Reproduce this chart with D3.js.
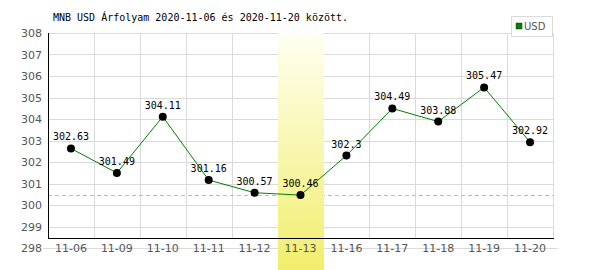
<!DOCTYPE html>
<html>
<head>
<meta charset="utf-8">
<script src="https://cdn.jsdelivr.net/npm/d3@7"></script>
<style>
  body { margin: 0; background: #fff; }
</style>
</head>
<body>
<svg id="chart"></svg>
<script>
const dates = ["11-06", "11-09", "11-10", "11-11", "11-12", "11-13", "11-16", "11-17", "11-18", "11-19", "11-20"];
const rates = [302.63, 301.49, 304.11, 301.16, 300.57, 300.46, 302.3, 304.49, 303.88, 305.47, 302.92];
const yTicks = [298, 299, 300, 301, 302, 303, 304, 305, 306, 307, 308];
const highlightDate = "11-13";

(() => {
    const width = 600, height = 270;
    const left = 48, right = 553, top = 33, axisBottom = 238, bottomLine = 248;

    const svg = d3.select("#chart")
        .attr("width", width)
        .attr("height", height);

    const x = d3.scaleBand().domain(dates).range([left, right]);
    const y = d3.scaleLinear().domain([298, 308]).range([bottomLine, top]);

    // yellow gradient for the highlighted day
    const grad = svg.append("defs").append("linearGradient")
        .attr("id", "hl").attr("x1", 0).attr("y1", 0).attr("x2", 0).attr("y2", 1);
    grad.append("stop").attr("offset", "0%").attr("stop-color", "#fffff2");
    grad.append("stop").attr("offset", "100%").attr("stop-color", "#f1ee6c");

    // grid
    const grid = svg.append("g").attr("stroke", "#dadada").attr("stroke-width", 1);
    grid.selectAll(".h").data(yTicks.filter(d => d > 298)).enter().append("line")
        .attr("x1", left).attr("x2", right)
        .attr("y1", d => Math.round(y(d)) + 0.5).attr("y2", d => Math.round(y(d)) + 0.5);
    grid.append("line")
        .attr("x1", left - 5).attr("x2", right + 5)
        .attr("y1", bottomLine + 0.5).attr("y2", bottomLine + 0.5);
    grid.selectAll(".v").data(dates).enter().append("line")
        .attr("x1", d => Math.round(x(d) + x.bandwidth()) + 0.5)
        .attr("x2", d => Math.round(x(d) + x.bandwidth()) + 0.5)
        .attr("y1", top).attr("y2", axisBottom);

    // minimum dashed line
    const minVal = d3.min(rates);
    svg.append("line")
        .attr("x1", left).attr("x2", right)
        .attr("y1", Math.round(y(minVal)) + 0.5).attr("y2", Math.round(y(minVal)) + 0.5)
        .attr("stroke", "#9fcf9f").attr("stroke-dasharray", "4,3");

    // highlight column
    svg.append("rect")
        .attr("x", Math.round(x(highlightDate)))
        .attr("y", top)
        .attr("width", Math.round(x.bandwidth()))
        .attr("height", height - top)
        .attr("fill", "url(#hl)");

    // axes lines
    svg.append("line")
        .attr("x1", left + 0.5).attr("x2", left + 0.5)
        .attr("y1", top).attr("y2", axisBottom + 1)
        .attr("stroke", "#000");
    svg.append("line")
        .attr("x1", left).attr("x2", right + 1)
        .attr("y1", axisBottom + 0.5).attr("y2", axisBottom + 0.5)
        .attr("stroke", "#000");

    // y tick labels
    svg.append("g").selectAll("text").data(yTicks).enter().append("text")
        .attr("x", 42)
        .attr("y", d => y(d) + 4)
        .attr("text-anchor", "end")
        .attr("font-family", "DejaVu Sans, Verdana, sans-serif")
        .attr("font-size", "11px")
        .attr("fill", "#555")
        .text(d => d);

    // x tick labels
    svg.append("g").selectAll("text").data(dates).enter().append("text")
        .attr("x", d => x(d) + x.bandwidth() / 2)
        .attr("y", bottomLine + 4)
        .attr("text-anchor", "middle")
        .attr("font-family", "DejaVu Sans, Verdana, sans-serif")
        .attr("font-size", "11px")
        .attr("fill", "#555")
        .text(d => d);

    // series line
    const pts = dates.map((d, i) => ({ date: d, v: rates[i] }));
    const cx = d => x(d.date) + x.bandwidth() / 2;
    svg.append("path")
        .datum(pts)
        .attr("fill", "none")
        .attr("stroke", "#008000")
        .attr("stroke-width", 1)
        .attr("d", d3.line().x(cx).y(d => y(d.v)));

    svg.append("g").selectAll("circle").data(pts).enter().append("circle")
        .attr("cx", cx).attr("cy", d => y(d.v))
        .attr("r", 4).attr("fill", "#000");

    svg.append("g").selectAll("text").data(pts).enter().append("text")
        .attr("x", cx)
        .attr("y", d => y(d.v) - 8)
        .attr("text-anchor", "middle")
        .attr("font-family", "DejaVu Sans Mono, monospace")
        .attr("font-size", "10px")
        .attr("fill", "#000")
        .text(d => d.v);

    // title
    svg.append("text")
        .attr("x", 53).attr("y", 21)
        .attr("font-family", "DejaVu Sans Mono, monospace")
        .attr("font-size", "10px")
        .attr("fill", "#000")
        .text("MNB USD Árfolyam 2020-11-06 és 2020-11-20 között.");

    // legend
    const lg = svg.append("g");
    lg.append("rect")
        .attr("x", 511.5).attr("y", 16.5).attr("width", 41).attr("height", 20)
        .attr("fill", "#fff").attr("stroke", "#dadada");
    lg.append("rect")
        .attr("x", 516).attr("y", 23).attr("width", 6).attr("height", 6)
        .attr("fill", "#008000").attr("stroke", "#333").attr("stroke-width", 0.5);
    lg.append("text")
        .attr("x", 524).attr("y", 30)
        .attr("font-family", "DejaVu Sans, Verdana, sans-serif")
        .attr("font-size", "10px")
        .attr("fill", "#555")
        .text("USD");
})();
</script>
</body>
</html>
